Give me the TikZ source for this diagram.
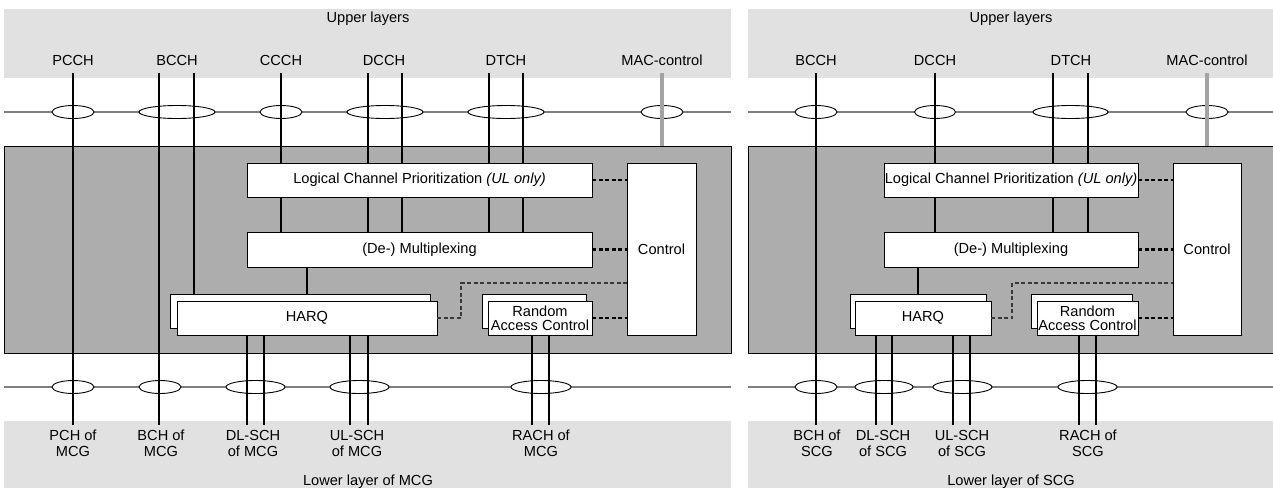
\documentclass[tikz,border=0pt]{standalone}
\usepackage{fontspec}
\setmainfont{Liberation Sans}
\usetikzlibrary{shapes.geometric}

\definecolor{bandgray}{HTML}{E1E1E1}
\definecolor{macgray}{HTML}{ADADAD}
\definecolor{linegray}{HTML}{7F7F7F}
\definecolor{ctlgray}{HTML}{A3A3A3}
\definecolor{dashgray}{HTML}{383838}

\begin{document}
\begin{tikzpicture}[x=1pt, y=-1pt, font=\fontsize{14.6}{16}\selectfont,
		band/.style={fill=bandgray},
		hline/.style={draw=linegray, line width=1.1pt},
		macbox/.style={draw, fill=macgray, line width=0.9pt, inner sep=0, outer sep=0, anchor=north west},
		sap/.style={draw, ellipse, fill=white, line width=0.9pt, minimum height=13, inner sep=0, outer sep=0},
		blk/.style={draw, fill=white, line width=0.9pt, inner sep=0, outer sep=0, anchor=north west, align=center},
		chan/.style={line width=2.3pt},
		macline/.style={draw=ctlgray, line width=3.2pt},
		ctrl/.style={line width=2.2pt, dash pattern=on 4pt off 2.5pt},
		lab/.style={anchor=base, inner sep=0},
		low/.style={align=center, inner sep=0}]
	\useasboundingbox (0,0) rectangle (1273,488);

	% ---------- left: MCG ----------
	\fill[band] (4,9) rectangle (731,78);
	\fill[band] (4,421) rectangle (731,488);
	\draw[hline] (4,112) -- (731,112);
	\draw[hline] (4,387) -- (731,387);
	\node[macbox, minimum width=727, minimum height=207] (lmac) at (4,146) {};

	\node[sap, minimum width=42] (ls1) at (73,112) {};
	\node[sap, minimum width=76] (ls2) at (177,112) {};
	\node[sap, minimum width=42] (ls3) at (281,112) {};
	\node[sap, minimum width=76] (ls4) at (385,112) {};
	\node[sap, minimum width=76] (ls5) at (506,112) {};
	\node[sap, minimum width=42] (ls6) at (662,112) {};
	\node[sap, minimum width=42] (lt1) at (73,387) {};
	\node[sap, minimum width=42] (lt2) at (160,387) {};
	\node[sap, minimum width=59] (lt3) at (255.5,387) {};
	\node[sap, minimum width=59] (lt4) at (359.5,387) {};
	\node[sap, minimum width=60] (lt5) at (541,387) {};

	\node[blk, minimum width=345, minimum height=34] (llcp) at (247,163) {Logical Channel Prioritization \textit{(UL only)}};
	\node[blk, minimum width=345, minimum height=35] (lmux) at (247,232) {(De-) Multiplexing};
	\node[blk, minimum width=69, minimum height=172] (lctl) at (627,163) {Control};
	\node[blk, minimum width=260, minimum height=34] (lharqb) at (170,294) {};
	\node[blk, minimum width=260, minimum height=34] (lharq) at (177,301) {HARQ};
	\node[blk, minimum width=104, minimum height=34] (lracb) at (482,294) {};
	\node[blk, minimum width=104, minimum height=34, font=\fontsize{14.6}{14}\selectfont] (lrac) at (488,301) {Random\\Access Control};

	\coordinate (lpcch) at (73,73);
	\coordinate (lbcch1) at (159,73);
	\coordinate (lbcch2) at (194,73);
	\coordinate (lccch) at (281,73);
	\coordinate (ldcch1) at (368,73);
	\coordinate (ldcch2) at (402,73);
	\coordinate (ldtch1) at (489,73);
	\coordinate (ldtch2) at (523,73);
	\coordinate (lmacc) at (662,73);
	\coordinate (lmx) at (307,267);
	\coordinate (ldl1) at (247,425);
	\coordinate (ldl2) at (264,425);
	\coordinate (lul1) at (350,425);
	\coordinate (lul2) at (368,425);
	\coordinate (lra1) at (532,425);
	\coordinate (lra2) at (549,425);
	\coordinate (lbend) at (461,283);

	\draw[chan] (lpcch) -- (lpcch |- ldl1);
	\draw[chan] (lbcch1) -- (lbcch1 |- ldl1);
	\draw[chan] (lbcch2) -- (lbcch2 |- lharqb.north);
	\foreach \c in {lccch,ldcch1,ldcch2,ldtch1,ldtch2}
		\draw[chan] (\c) -- (\c |- llcp.north) (\c |- llcp.south) -- (\c |- lmux.north);
	\draw[macline] (lmacc) -- (lmacc |- lmac.north);
	\draw[chan] (lmx) -- (lmx |- lharqb.north);
	\foreach \c in {ldl1,ldl2,lul1,lul2}
		\draw[chan] (\c |- lharq.south) -- (\c);
	\foreach \c in {lra1,lra2}
		\draw[chan] (\c |- lrac.south) -- (\c);

	\draw[ctrl] (llcp.east) -- (llcp.east -| lctl.west);
	\draw[ctrl] (lmux.east) -- (lmux.east -| lctl.west);
	\draw[ctrl] (lrac.east) -- (lrac.east -| lctl.west);
	\draw[ctrl, draw=dashgray] (lharq.east) -| (lbend) -- (lbend -| lctl.west);

	\node[lab] (lup) at (368,22.5) {Upper layers};
	\node[lab] (lpcchT) at (73,65.5) {PCCH};
	\node[lab] (lbcchT) at (177,65.5) {BCCH};
	\node[lab] (lccchT) at (281,65.5) {CCCH};
	\node[lab] (ldcchT) at (384,65.5) {DCCH};
	\node[lab] (ldtchT) at (506,65.5) {DTCH};
	\node[lab] (lmacT) at (662,65.5) {MAC-control};
	\node[low] (lpch) at (73,443.5) {PCH of\\MCG};
	\node[low] (lbch) at (161,443.5) {BCH of\\MCG};
	\node[low] (ldlsch) at (253,443.5) {DL-SCH\\of MCG};
	\node[low] (lulsch) at (357,443.5) {UL-SCH\\of MCG};
	\node[low] (lrach) at (541,443.5) {RACH of\\MCG};
	\node[lab] (llow) at (368,485) {Lower layer of MCG};

	% ---------- right: SCG ----------
	\fill[band] (748,9) rectangle (1273,78);
	\fill[band] (748,421) rectangle (1273,488);
	\draw[hline] (748,112) -- (1273,112);
	\draw[hline] (748,387) -- (1273,387);
	\node[macbox, minimum width=526, minimum height=207] (rmac) at (748,146) {};

	\node[sap, minimum width=42] (rs1) at (816,112) {};
	\node[sap, minimum width=41] (rs2) at (935,112) {};
	\node[sap, minimum width=75] (rs3) at (1070.5,112) {};
	\node[sap, minimum width=42] (rs4) at (1207,112) {};
	\node[sap, minimum width=42] (rt1) at (816,387) {};
	\node[sap, minimum width=58] (rt2) at (884,387) {};
	\node[sap, minimum width=59] (rt3) at (962.5,387) {};
	\node[sap, minimum width=59] (rt4) at (1087.5,387) {};

	\node[blk, minimum width=254, minimum height=34] (rlcp) at (884,163) {Logical Channel Prioritization \textit{(UL only)}};
	\node[blk, minimum width=254, minimum height=35] (rmux) at (884,232) {(De-) Multiplexing};
	\node[blk, minimum width=68, minimum height=172] (rctl) at (1173,163) {Control};
	\node[blk, minimum width=136, minimum height=34] (rharqb) at (850,294) {};
	\node[blk, minimum width=136, minimum height=34] (rharq) at (855,301) {HARQ};
	\node[blk, minimum width=101, minimum height=34] (rracb) at (1031,294) {};
	\node[blk, minimum width=101, minimum height=34, font=\fontsize{14.6}{14}\selectfont] (rrac) at (1037,301) {Random\\Access Control};

	\coordinate (rbcch) at (816,73);
	\coordinate (rdcch) at (935,73);
	\coordinate (rdtch1) at (1053,73);
	\coordinate (rdtch2) at (1088,73);
	\coordinate (rmacc) at (1207,73);
	\coordinate (rmx) at (918,267);
	\coordinate (rdl1) at (876,425);
	\coordinate (rdl2) at (892,425);
	\coordinate (rul1) at (953,425);
	\coordinate (rul2) at (970,425);
	\coordinate (rra1) at (1079,425);
	\coordinate (rra2) at (1096,425);
	\coordinate (rbend) at (1012,283);

	\draw[chan] (rbcch) -- (rbcch |- rdl1);
	\foreach \c in {rdcch,rdtch1,rdtch2}
		\draw[chan] (\c) -- (\c |- rlcp.north) (\c |- rlcp.south) -- (\c |- rmux.north);
	\draw[macline] (rmacc) -- (rmacc |- rmac.north);
	\draw[chan] (rmx) -- (rmx |- rharqb.north);
	\foreach \c in {rdl1,rdl2,rul1,rul2}
		\draw[chan] (\c |- rharq.south) -- (\c);
	\foreach \c in {rra1,rra2}
		\draw[chan] (\c |- rrac.south) -- (\c);

	\draw[ctrl] (rlcp.east) -- (rlcp.east -| rctl.west);
	\draw[ctrl] (rmux.east) -- (rmux.east -| rctl.west);
	\draw[ctrl] (rrac.east) -- (rrac.east -| rctl.west);
	\draw[ctrl, draw=dashgray] (rharq.east) -| (rbend) -- (rbend -| rctl.west);

	\node[lab] (rup) at (1011,22.5) {Upper layers};
	\node[lab] (rbcchT) at (816,65.5) {BCCH};
	\node[lab] (rdcchT) at (935,65.5) {DCCH};
	\node[lab] (rdtchT) at (1071,65.5) {DTCH};
	\node[lab] (rmacT) at (1207,65.5) {MAC-control};
	\node[low] (rbch) at (817,443.5) {BCH of\\SCG};
	\node[low] (rdlsch) at (883,443.5) {DL-SCH\\of SCG};
	\node[low] (rulsch) at (962,443.5) {UL-SCH\\of SCG};
	\node[low] (rrach) at (1088,443.5) {RACH of\\SCG};
	\node[lab] (rlow) at (1011,485) {Lower layer of SCG};
\end{tikzpicture}
\end{document}
